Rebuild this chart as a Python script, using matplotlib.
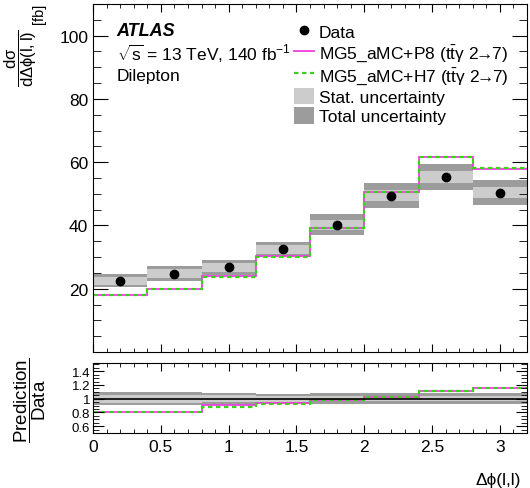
import numpy as np
import matplotlib
matplotlib.use("Agg")
import matplotlib.pyplot as plt
from matplotlib.ticker import MultipleLocator, FormatStrFormatter
from matplotlib.lines import Line2D
from matplotlib.patches import Patch

# binning in delta phi(l,l)
bin_edges = [0.0, 0.4, 0.8, 1.2, 1.6, 2.0, 2.4, 2.8, 3.2]

# measured cross-section [fb] and uncertainties
data = [22.5, 24.75, 26.75, 32.4, 40.2, 49.4, 55.3, 50.4]
total_unc = [2.05, 2.3, 2.35, 2.25, 3.3, 3.9, 4.25, 3.9]
stat_unc = [1.35, 1.4, 1.45, 1.35, 1.6, 1.7, 2.0, 1.75]

# MC predictions
mg5_p8 = [18.0, 20.0, 24.1, 30.2, 39.3, 50.6, 61.5, 58.0]
mg5_h7 = [18.0, 20.0, 23.7, 30.1, 39.2, 50.5, 61.6, 58.2]

FS = 12.5
MAGENTA = "#f03ee0"
GREEN = "#3bd21c"
STAT_COL = "#cccccc"
TOT_COL = "#9c9c9c"

plt.rcParams["font.family"] = ["Liberation Sans", "DejaVu Sans"]
plt.rcParams["mathtext.fontset"] = "custom"
plt.rcParams["mathtext.rm"] = "Liberation Sans"
plt.rcParams["mathtext.it"] = "Liberation Sans"
plt.rcParams["mathtext.bf"] = "Liberation Sans:bold"
plt.rcParams["font.size"] = FS

edges = np.array(bin_edges)
centers = 0.5 * (edges[:-1] + edges[1:])
d = np.array(data)
tot = np.array(total_unc)
stat = np.array(stat_unc)
p8 = np.array(mg5_p8)
h7 = np.array(mg5_h7)

W, H = 530, 489
fig = plt.figure(figsize=(W / 100, H / 100), dpi=100)
ax = fig.add_axes([93 / W, 136 / H, 434 / W, 348 / H])
rax = fig.add_axes([93 / W, 55 / H, 434 / W, 70 / H])

# ---- main panel
ax.stairs(d + tot, edges, baseline=d - tot, fill=True, color=TOT_COL, lw=0)
ax.stairs(d + stat, edges, baseline=d - stat, fill=True, color=STAT_COL, lw=0)
ax.stairs(p8, edges, baseline=None, color=MAGENTA, lw=1.3)
ax.stairs(h7, edges, baseline=None, color=GREEN, lw=1.6, linestyle=(0, (2, 1.6)))
ax.plot(centers, d, "o", color="black", ms=6, zorder=5)

ax.set_xlim(0, 3.2)
ax.set_ylim(0, 110)
ax.set_yticks([20, 40, 60, 80, 100])
ax.yaxis.set_minor_locator(MultipleLocator(5))
ax.xaxis.set_major_locator(MultipleLocator(0.5))
ax.xaxis.set_minor_locator(MultipleLocator(0.1))
ax.tick_params(which="both", direction="in", top=True, right=True, labelbottom=False)
ax.tick_params(axis="y", which="major", length=11)
ax.tick_params(axis="y", which="minor", length=5.5)
ax.tick_params(axis="x", which="major", length=6)
ax.tick_params(axis="x", which="minor", length=3)

# y title of main panel (fraction plus unit)
fig.text(21 / W, 1 - 58 / H, r"$\dfrac{\mathrm{d}\sigma}{\mathrm{d}\Delta\phi(\mathrm{l,l})}$",
         rotation=90, ha="center", va="center", fontsize=12)
fig.text(39 / W, 1 - 4 / H, "[fb]", rotation=90, ha="center", va="top", fontsize=10.5)

ax.text(0.055, 0.925, "ATLAS", transform=ax.transAxes, fontsize=13, fontweight="bold",
        fontstyle="italic", va="center")
ax.text(0.055, 0.86, r"$\sqrt{\mathrm{s}}$ = 13 TeV, 140 fb$^{-1}$", transform=ax.transAxes,
        fontsize=FS, va="center")
ax.text(0.055, 0.795, "Dilepton", transform=ax.transAxes, fontsize=FS, va="center")

handles = [
    Line2D([], [], marker="o", color="black", ls="none", ms=6),
    Line2D([], [], color=MAGENTA, lw=1.3),
    Line2D([], [], color=GREEN, lw=1.6, linestyle=(0, (2, 1.6))),
    Patch(facecolor=STAT_COL, edgecolor="none"),
    Patch(facecolor=TOT_COL, edgecolor="none"),
]
labels = [
    "Data",
    r"MG5_aMC+P8 (t$\mathrm{\bar{t}}$γ $2\!\!\rightarrow\!\!7$)",
    r"MG5_aMC+H7 (t$\mathrm{\bar{t}}$γ $2\!\!\rightarrow\!\!7$)",
    "Stat. uncertainty",
    "Total uncertainty",
]
ax.legend(handles, labels, loc="upper left", bbox_to_anchor=(0.462, 0.945), frameon=False,
          fontsize=FS, handlelength=1.2, handleheight=1.1, handletextpad=0.25,
          labelspacing=0.12, borderpad=0, borderaxespad=0)

# ---- ratio panel
rel_tot = tot / d
rel_stat = stat / d
rax.stairs(1 + rel_tot, edges, baseline=1 - rel_tot, fill=True, color=TOT_COL, lw=0)
rax.stairs(1 + rel_stat, edges, baseline=1 - rel_stat, fill=True, color=STAT_COL, lw=0)
rax.axhline(1, color="black", lw=1.2)
rax.stairs(p8 / d, edges, baseline=None, color=MAGENTA, lw=1.3)
rax.stairs(h7 / d, edges, baseline=None, color=GREEN, lw=1.6, linestyle=(0, (2, 1.6)))

rax.set_xlim(0, 3.2)
rax.set_ylim(0.5, 1.52)
rax.set_yticks([0.6, 0.8, 1.0, 1.2, 1.4])
rax.yaxis.set_minor_locator(MultipleLocator(0.05))
rax.yaxis.set_major_formatter(FormatStrFormatter("%g"))
rax.xaxis.set_major_locator(MultipleLocator(0.5))
rax.xaxis.set_minor_locator(MultipleLocator(0.1))
rax.xaxis.set_major_formatter(FormatStrFormatter("%g"))
rax.tick_params(which="both", direction="in", top=True, right=True)
rax.tick_params(axis="y", which="major", length=8, labelsize=9.5, pad=2)
rax.tick_params(axis="y", which="minor", length=4)
rax.tick_params(axis="x", which="major", length=6, labelsize=FS, pad=4)
rax.tick_params(axis="x", which="minor", length=3)

fig.text(30 / W, 1 - 400 / H, r"$\dfrac{\mathrm{Prediction}}{\mathrm{Data}}$",
         rotation=90, ha="center", va="center", fontsize=13.5)
rax.set_xlabel("Δϕ(l,l)", loc="right", fontsize=FS)
rax.xaxis.set_label_coords(0.985, -0.56)

fig.savefig("out.png", dpi=100)
